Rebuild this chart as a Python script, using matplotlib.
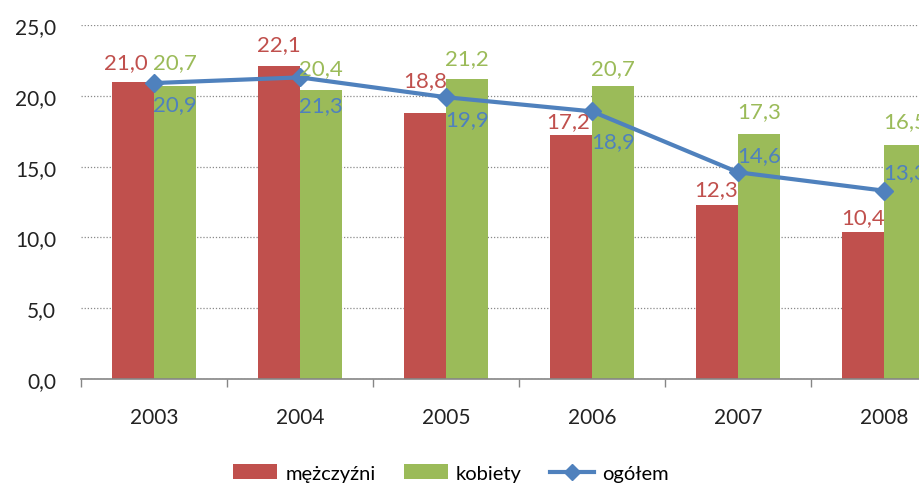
import matplotlib
matplotlib.use("Agg")
import matplotlib.pyplot as plt
from matplotlib.patches import Patch
from matplotlib.lines import Line2D
import numpy as np

plt.rcParams['font.family'] = ['Lato', 'DejaVu Sans']

years = ["2003", "2004", "2005", "2006", "2007", "2008"]
men = [21.0, 22.1, 18.8, 17.2, 12.3, 10.4]
women = [20.7, 20.4, 21.2, 20.7, 17.3, 16.5]
total = [20.9, 21.3, 19.9, 18.9, 14.6, 13.3]
yticks = [0, 5, 10, 15, 20, 25]
series_names = ["mężczyźni", "kobiety", "ogółem"]

# label placement (pixel offsets)
men_lbl_dx = [-7, 0, 0, -3, -1, 0]
men_lbl_dy = [20, 22, 33, 14, 16, 15]
women_lbl_dy = [24, 22, 21, 18, 23, 24]
total_lbl_dy = [-21, -28, -22, -30, 17, 19]

RED = "#C0504D"
GREEN = "#9BBB59"
BLUE = "#4F81BD"

def fmt(v):
    return f"{v:.1f}".replace(".", ",")

fig = plt.figure(figsize=(9.2, 4.85), dpi=100)
ax = fig.add_axes([81/920, 1-380/485, 876/920, 354/485])

x = np.arange(len(years))
bw = 0.287
ax.bar(x - bw/2, men, width=bw, color=RED, zorder=2)
ax.bar(x + bw/2, women, width=bw, color=GREEN, zorder=2)
ax.plot(x, total, color=BLUE, lw=3, marker='D', markersize=9.5, zorder=3)

ax.set_xlim(-0.5, len(years) - 0.5)
ax.set_ylim(0, 25)
ax.set_yticks(yticks)
ax.set_yticklabels([fmt(v) for v in yticks], fontsize=15, color="#222222")
ax.tick_params(axis='y', length=0, pad=18)

ax.set_xticks(np.arange(-0.5, len(years), 1.0))
ax.set_xticklabels([])
ax.set_xticks(x, minor=True)
ax.set_xticklabels(years, minor=True, fontsize=15, color="#222222")
ax.tick_params(axis='x', which='major', length=6, color="#868686", width=1)
ax.tick_params(axis='x', which='minor', length=0, pad=20)

ax.yaxis.grid(True, linestyle=(0, (1, 1.5)), color="#8a8a8a", linewidth=0.9, zorder=0)
ax.set_axisbelow(True)
for s in ["top", "right", "left"]:
    ax.spines[s].set_visible(False)
ax.spines["bottom"].set_color("#868686")
ax.spines["bottom"].set_linewidth(1.2)
ax.spines["bottom"].set_zorder(4)

for i in range(len(years)):
    ax.annotate(fmt(men[i]), (x[i] - bw/2, men[i]), xytext=(men_lbl_dx[i], men_lbl_dy[i]),
                textcoords='offset pixels', ha='center', va='center', color=RED, fontsize=16)
    ax.annotate(fmt(women[i]), (x[i] + bw/2, women[i]), xytext=(0, women_lbl_dy[i]),
                textcoords='offset pixels', ha='center', va='center', color=GREEN, fontsize=16)
    ax.annotate(fmt(total[i]), (x[i], total[i]), xytext=(-1, total_lbl_dy[i]),
                textcoords='offset pixels', ha='left', va='center', color=BLUE, fontsize=16)

handles = [Patch(facecolor=RED), Patch(facecolor=GREEN),
           Line2D([0], [0], color=BLUE, lw=3, marker='D', markersize=8.5)]
fig.legend(handles, series_names, loc='center', bbox_to_anchor=(451/920, 1 - 474/485),
           ncol=3, frameon=False, fontsize=14.5, handlelength=2.2, handleheight=0.72,
           handletextpad=0.4, columnspacing=1.4)

fig.savefig("out.png", dpi=100)
